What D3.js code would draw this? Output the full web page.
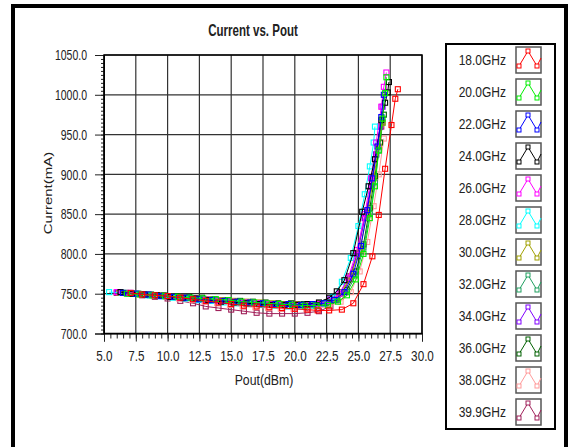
<!DOCTYPE html>
<html>
<head>
<meta charset="utf-8">
<script src="https://cdn.jsdelivr.net/npm/d3@7"></script>
<style>
    body { margin: 0; background: #fff; }
    text { font-family: "Liberation Sans", Arial, sans-serif; fill: #222; }
</style>
</head>
<body>
<div id="chart-area"></div>
<script>
// Legend labels and colours, one per frequency
var freqLabels = ["18.0GHz", "20.0GHz", "22.0GHz", "24.0GHz", "26.0GHz", "28.0GHz",
                  "30.0GHz", "32.0GHz", "34.0GHz", "36.0GHz", "38.0GHz", "39.9GHz"];
var seriesColors = ["#ff0000", "#00ee00", "#0000ff", "#000000", "#ff00ff", "#00ffff",
                    "#a0a000", "#20a060", "#8000ff", "#006000", "#ff9a9a", "#a0205a"];

// Pout (dBm) per frequency
var poutValues = [
    [7.1,8.0,9.0,10.0,11.0,12.0,13.0,14.0,15.0,16.0,17.0,18.0,19.0,20.0,21.0,21.8,22.7,23.7,24.6,25.4,26.1,26.6,27.1,27.6,27.9,28.1],
    [6.8,7.8,8.8,9.8,10.8,11.8,12.8,13.8,14.8,15.8,16.8,17.8,18.8,19.8,20.8,21.7,22.6,23.4,24.1,24.8,25.4,25.9,26.3,26.6,26.9,27.1,27.2],
    [6.5,7.5,8.5,9.5,10.5,11.5,12.5,13.5,14.5,15.5,16.5,17.5,18.5,19.5,20.5,21.4,22.3,23.1,23.9,24.6,25.2,25.7,26.1,26.5,26.8,27.0],
    [6.3,7.2,8.2,9.2,10.2,11.2,12.2,13.2,14.2,15.2,16.2,17.2,18.2,19.2,20.2,21.0,21.9,22.7,23.3,23.9,24.6,25.3,25.8,26.3,26.8,27.1,27.3,27.4],
    [6.0,7.0,8.0,9.0,10.0,11.0,12.0,13.0,14.0,15.0,16.0,17.0,18.0,19.0,20.0,20.9,21.8,22.7,23.5,24.2,24.9,25.5,26.0,26.4,26.8,27.0,27.2],
    [5.4,6.4,7.4,8.4,9.4,10.4,11.4,12.4,13.4,14.4,15.4,16.4,17.4,18.4,19.4,20.4,21.3,22.2,23.0,23.7,24.4,25.0,25.5,25.9,26.2,26.3],
    [6.2,7.2,8.2,9.2,10.2,11.2,12.2,13.2,14.2,15.2,16.2,17.2,18.2,19.2,20.2,21.1,22.0,22.9,23.7,24.4,25.1,25.7,26.2,26.6,26.9],
    [6.6,7.6,8.6,9.6,10.6,11.6,12.6,13.6,14.6,15.6,16.6,17.6,18.6,19.6,20.6,21.5,22.4,23.3,24.1,24.8,25.4,25.9,26.3,26.6,26.9],
    [6.1,7.1,8.1,9.1,10.1,11.1,12.1,13.1,14.1,15.1,16.1,17.1,18.1,19.1,20.1,21.0,21.9,22.8,23.6,24.3,24.9,25.5,26.0,26.4,26.7,26.9],
    [6.7,7.7,8.7,9.7,10.7,11.7,12.7,13.7,14.7,15.7,16.7,17.7,18.7,19.7,20.7,21.6,22.5,23.3,24.1,24.8,25.4,25.9,26.3,26.7,27.0],
    [6.9,7.9,8.9,9.9,10.9,11.9,12.9,13.9,14.9,15.9,16.9,17.9,18.9,19.9,20.9,21.8,22.7,23.6,24.4,25.1,25.7,26.2,26.6,27.0],
    [6.0,7.0,8.0,9.0,10.0,11.0,12.0,13.0,14.0,15.0,16.0,17.0,18.0,19.0,20.0,21.0,21.9,22.8,23.6,24.3,24.9,25.5,26.0,26.4,26.8]
];

// Current (mA) per frequency
var currentValues = [
    [751,749,748,747,745,743,741,739,737,735,734,733,732,731,730,729,729,730,738,762,797,849,907,962,995,1007],
    [750,749,748,747,746,745,744,743,742,740,739,738,737,736,735,735,736,740,748,768,800,845,885,930,970,1002,1022],
    [751,750,749,747,746,745,743,742,741,740,739,738,737,737,736,737,738,742,752,775,810,855,895,935,972,1000],
    [752,750,749,748,746,745,744,742,740,739,738,737,736,736,736,737,739,745,753,767,801,853,885,919,968,990,1003,1016],
    [752,751,749,748,747,745,744,743,741,740,739,738,737,736,736,736,737,741,750,770,805,850,895,940,985,1010,1028],
    [752,751,750,748,747,745,744,742,741,739,738,737,736,735,734,734,735,738,746,765,795,835,875,910,940,960],
    [751,750,749,748,746,745,744,743,742,741,740,739,738,737,737,737,738,742,752,772,805,850,895,935,965],
    [751,750,748,747,746,745,744,743,741,740,739,738,737,737,736,736,738,742,752,773,808,850,890,930,965],
    [752,751,749,748,746,745,744,742,741,740,739,738,737,736,736,736,738,743,752,772,800,845,885,925,960,985],
    [751,750,749,748,747,746,745,743,742,741,740,739,738,738,737,737,739,744,755,778,812,858,898,940,975],
    [750,749,747,746,744,742,740,738,736,734,733,732,731,731,731,732,734,740,752,778,815,860,900,945],
    [751,750,748,746,744,741,738,734,732,730,728,726,725,725,725,726,728,734,746,768,800,845,885,925,960]
];

// Axis ticks
var xTicks = [5.0, 7.5, 10.0, 12.5, 15.0, 17.5, 20.0, 22.5, 25.0, 27.5, 30.0];
var yTicks = [700, 750, 800, 850, 900, 950, 1000, 1050];

CurrentChart = function(_parentElement) {
    this.parentElement = _parentElement;
    this.initVis();
};

CurrentChart.prototype.initVis = function() {
    var vis = this;

    vis.margin = { top: 55, right: 147, bottom: 113.5, left: 104 };
    vis.width = 569 - vis.margin.left - vis.margin.right;
    vis.height = 447 - vis.margin.top - vis.margin.bottom;

    vis.root = d3.select("#" + vis.parentElement).append("svg")
        .attr("width", 569)
        .attr("height", 447);

    // outer frame
    vis.root.append("rect")
        .attr("x", 13).attr("y", 6)
        .attr("width", 553).attr("height", 460)
        .attr("fill", "none")
        .attr("stroke", "#000")
        .attr("stroke-width", 4);

    vis.svg = vis.root.append("g")
        .attr("transform", "translate(" + vis.margin.left + "," + vis.margin.top + ")");

    vis.x = d3.scaleLinear().domain([5, 30]).range([0, vis.width]);
    vis.y = d3.scaleLinear().domain([700, 1050]).range([vis.height, 0]);

    // grid
    vis.svg.selectAll(".vgrid")
        .data(xTicks)
        .enter().append("line")
        .attr("class", "vgrid")
        .attr("x1", function(d) { return vis.x(d); })
        .attr("x2", function(d) { return vis.x(d); })
        .attr("y1", 0).attr("y2", vis.height)
        .attr("stroke", "#333").attr("stroke-width", 1.2);

    vis.svg.selectAll(".hgrid")
        .data(yTicks)
        .enter().append("line")
        .attr("class", "hgrid")
        .attr("x1", 0).attr("x2", vis.width)
        .attr("y1", function(d) { return vis.y(d); })
        .attr("y2", function(d) { return vis.y(d); })
        .attr("stroke", "#333").attr("stroke-width", 1.2);

    // minor ticks
    vis.svg.append("g")
        .attr("transform", "translate(0," + vis.height + ")")
        .call(d3.axisBottom(vis.x).tickValues(d3.range(5, 30.01, 0.5)).tickSize(5).tickFormat(""))
        .call(function(g) { g.select(".domain").remove(); });
    vis.svg.append("g")
        .call(d3.axisLeft(vis.y).tickValues(d3.range(700, 1050.1, 5)).tickSize(3).tickFormat(""))
        .call(function(g) { g.select(".domain").remove(); });

    // major axes
    vis.xAxis = vis.svg.append("g")
        .attr("transform", "translate(0," + vis.height + ")")
        .call(d3.axisBottom(vis.x).tickValues(xTicks).tickSize(8).tickFormat(d3.format(".1f")));
    vis.xAxis.selectAll("text")
        .attr("y", 0).attr("dy", "0.35em")
        .attr("transform", "translate(0,22) scale(0.78,1)")
        .style("font-size", "15px");

    vis.yAxis = vis.svg.append("g")
        .call(d3.axisLeft(vis.y).tickValues(yTicks).tickSize(9).tickFormat(d3.format(".1f")));
    vis.yAxis.selectAll("text")
        .attr("x", 0)
        .attr("transform", "translate(-17,0) scale(0.7,1)")
        .style("font-size", "15px");

    vis.svg.selectAll(".domain").attr("stroke", "#000");
    vis.svg.selectAll(".tick line").attr("stroke", "#222");
    vis.svg.selectAll(".tick text").attr("fill", "#222");

    // plot border
    vis.svg.append("rect")
        .attr("width", vis.width).attr("height", vis.height)
        .attr("fill", "none").attr("stroke", "#000").attr("stroke-width", 1.5);

    // titles
    vis.root.append("text")
        .attr("transform", "translate(253,30) scale(0.72,1)")
        .attr("text-anchor", "middle")
        .attr("dy", "0.35em")
        .style("font-size", "16px").style("font-weight", "bold")
        .attr("fill", "#000")
        .text("Current vs. Pout");

    vis.root.append("text")
        .attr("transform", "translate(264,380) scale(0.82,1)")
        .attr("text-anchor", "middle")
        .attr("dy", "0.35em")
        .style("font-size", "15px")
        .text("Pout(dBm)");

    vis.root.append("text")
        .attr("transform", "translate(48,193) rotate(-90) scale(1,0.78)")
        .attr("text-anchor", "middle")
        .attr("dy", "0.35em")
        .style("font-size", "15px")
        .text("Current(mA)");

    vis.wrangleData();
};

CurrentChart.prototype.wrangleData = function() {
    var vis = this;

    vis.displayData = freqLabels.map(function(f, i) {
        return {
            label: f,
            color: seriesColors[i],
            values: poutValues[i].map(function(p, j) { return { pout: p, current: currentValues[i][j] }; })
        };
    });

    vis.updateVis();
};

CurrentChart.prototype.updateVis = function() {
    var vis = this;

    var line = d3.line()
        .x(function(d) { return vis.x(d.pout); })
        .y(function(d) { return vis.y(d.current); });

    // draw last series first so 18GHz ends on top
    var series = vis.svg.selectAll(".series")
        .data(vis.displayData.slice().reverse())
        .enter().append("g")
        .attr("class", "series");

    series.append("path")
        .attr("d", function(d) { return line(d.values); })
        .attr("fill", "none")
        .attr("stroke", function(d) { return d.color; })
        .attr("stroke-width", 1);

    series.selectAll("rect")
        .data(function(d) { return d.values.map(function(v) { return { v: v, color: d.color }; }); })
        .enter().append("rect")
        .attr("x", function(d) { return vis.x(d.v.pout) - 2.5; })
        .attr("y", function(d) { return vis.y(d.v.current) - 2.5; })
        .attr("width", 5).attr("height", 5)
        .attr("fill", "none")
        .attr("stroke", function(d) { return d.color; })
        .attr("stroke-width", 1.1);

    // legend
    vis.legend = vis.root.append("g").attr("class", "legend");
    vis.legend.append("rect")
        .attr("x", 446).attr("y", 44)
        .attr("width", 109).attr("height", 385)
        .attr("fill", "#fff").attr("stroke", "#000").attr("stroke-width", 2);

    var rows = vis.legend.selectAll(".legend-row")
        .data(vis.displayData)
        .enter().append("g")
        .attr("class", "legend-row")
        .attr("transform", function(d, i) { return "translate(0," + (60 + i * 32) + ")"; });

    rows.append("text")
        .attr("transform", "translate(506,0) scale(0.8,1)")
        .attr("text-anchor", "end")
        .attr("dy", "0.35em")
        .style("font-size", "15px")
        .text(function(d) { return d.label; });

    rows.append("rect")
        .attr("x", 516).attr("y", -13)
        .attr("width", 25).attr("height", 26)
        .attr("fill", "#fff").attr("stroke", "#555").attr("stroke-width", 1.5);

    var icon = [[519, 6], [528, -9], [537, 6], [541, -2]];
    rows.append("polyline")
        .attr("points", icon.map(function(p) { return p.join(","); }).join(" "))
        .attr("fill", "none")
        .attr("stroke", function(d) { return d.color; })
        .attr("stroke-width", 1);

    rows.selectAll(".icon-marker")
        .data(function(d) { return icon.slice(0, 3).map(function(p) { return { p: p, color: d.color }; }); })
        .enter().append("rect")
        .attr("class", "icon-marker")
        .attr("x", function(d) { return d.p[0] - 2; })
        .attr("y", function(d) { return d.p[1] - 2; })
        .attr("width", 4).attr("height", 4)
        .attr("fill", "#fff")
        .attr("stroke", function(d) { return d.color; })
        .attr("stroke-width", 1);
};

new CurrentChart("chart-area");
</script>
</body>
</html>
